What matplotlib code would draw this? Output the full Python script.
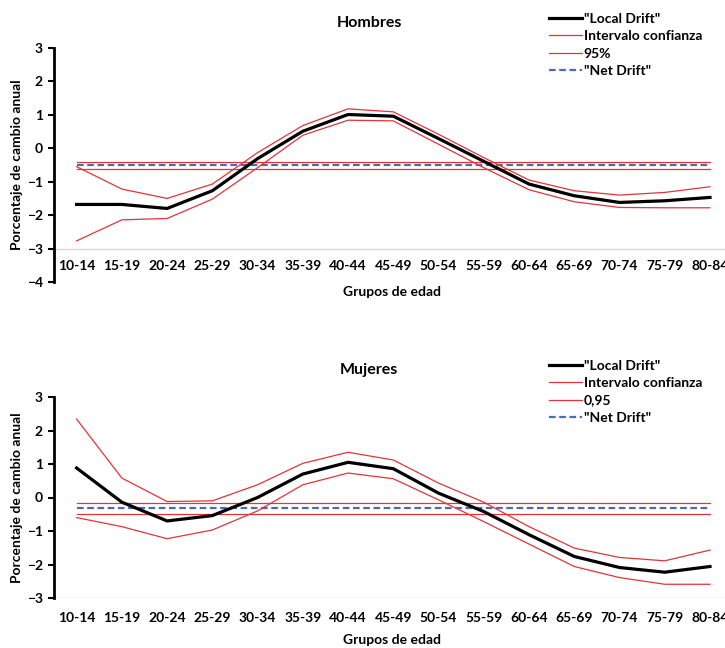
import matplotlib
matplotlib.use("Agg")
import matplotlib.pyplot as plt
import numpy as np

plt.rcParams['font.family'] = ['Lato', 'DejaVu Sans']
plt.rcParams['font.weight'] = 'bold'

grupos = ["10-14", "15-19", "20-24", "25-29", "30-34", "35-39", "40-44", "45-49",
          "50-54", "55-59", "60-64", "65-69", "70-74", "75-79", "80-84"]

# Hombres
h_local = [-1.68, -1.68, -1.80, -1.27, -0.31, 0.51, 1.01, 0.96,
           0.29, -0.39, -1.07, -1.42, -1.62, -1.57, -1.47]
h_sup = [-0.55, -1.22, -1.50, -1.07, -0.13, 0.68, 1.18, 1.09,
         0.42, -0.28, -0.95, -1.27, -1.40, -1.32, -1.15]
h_inf = [-2.77, -2.14, -2.10, -1.52, -0.58, 0.39, 0.84, 0.82,
         0.12, -0.58, -1.24, -1.60, -1.77, -1.78, -1.78]
h_net = -0.51
h_net_sup = -0.40
h_net_inf = -0.61

# Mujeres
m_local = [0.88, -0.14, -0.70, -0.54, 0.00, 0.70, 1.05, 0.86,
           0.13, -0.42, -1.11, -1.76, -2.09, -2.23, -2.06]
m_sup = [2.34, 0.58, -0.12, -0.10, 0.38, 1.02, 1.35, 1.12,
         0.43, -0.14, -0.87, -1.51, -1.79, -1.89, -1.57]
m_inf = [-0.60, -0.87, -1.23, -0.97, -0.40, 0.38, 0.73, 0.56,
         -0.07, -0.72, -1.39, -2.06, -2.39, -2.59, -2.59]
m_net = -0.32
m_net_sup = -0.15
m_net_inf = -0.50

RED = '#e3343a'
BLUE = '#4a6db0'
W, H = 725, 648


def panel(rect, local, sup, inf, net, net_sup, net_inf, ylim, title, ci_label, label_pad, leg_top, title_y, xlabel_y):
    ax = fig.add_axes(rect)
    x = np.arange(len(grupos))
    n = len(grupos)
    ax.plot(x, local, color='black', lw=2.3, label='"Local Drift"', zorder=5)
    ax.plot(x, sup, color=RED, lw=0.9, label='Intervalo confianza', zorder=4)
    ax.plot(x, inf, color=RED, lw=0.9, label=ci_label, zorder=4)
    ax.plot(x, [net_sup]*n, color=RED, lw=0.9, zorder=3)
    ax.plot(x, [net_inf]*n, color=RED, lw=0.9, zorder=3)
    ax.plot(x, [net]*n, color=BLUE, lw=1.6, ls=(0, (3, 1.6)), label='"Net Drift"', zorder=3)
    ax.axhline(-3, color='#d9d9d9', lw=1, zorder=1)

    ax.set_xlim(-0.5, n - 0.5)
    ax.set_ylim(*ylim)
    ax.set_yticks(np.arange(ylim[0], ylim[1] + 1))
    ax.set_xticks(x)
    ax.set_xticklabels(grupos)
    ax.tick_params(axis='x', length=0, pad=label_pad, labelsize=10)
    ax.tick_params(axis='y', length=4, width=1.5, pad=4, labelsize=10, direction='out')
    for s in ['top', 'right', 'bottom']:
        ax.spines[s].set_visible(False)
    ax.spines['left'].set_linewidth(2)
    ax.patch.set_alpha(0)

    fig.text(369/W, 1 - title_y/H, title, ha='center', va='center', fontsize=11.5, fontweight='bold')
    fig.text(392/W, 1 - xlabel_y/H, 'Grupos de edad', ha='center', va='center', fontsize=10, fontweight='bold')
    ymid = rect[1] + rect[3]/2
    fig.text(17/W, ymid, 'Porcentaje de cambio anual', ha='center', va='center',
             rotation=90, fontsize=10, fontweight='bold')

    fig.legend(*ax.get_legend_handles_labels(), loc='upper left',
               bbox_to_anchor=(549/W, 1 - leg_top/H), frameon=False,
               fontsize=10, handlelength=2.4, handletextpad=0.1,
               labelspacing=0.38, borderpad=0, borderaxespad=0)
    return ax


fig = plt.figure(figsize=(7.25, 6.48), dpi=100)

left = 54/W
width = (732.6 - 54)/W

# top: y=3 at 48px, y=-4 at 282px
panel([left, 1 - 282/H, width, (282 - 48)/H], h_local, h_sup, h_inf,
      h_net, h_net_sup, h_net_inf, (-4, 3), 'Hombres', '95%', -15.5, 13, 23, 292)

# bottom: y=3 at 397px, y=-3 at 598px
panel([left, 1 - 598/H, width, (598 - 397)/H], m_local, m_sup, m_inf,
      m_net, m_net_sup, m_net_inf, (-3, 3), 'Mujeres', '0,95', 10, 360, 370, 640)

fig.savefig('out.png', dpi=100)
